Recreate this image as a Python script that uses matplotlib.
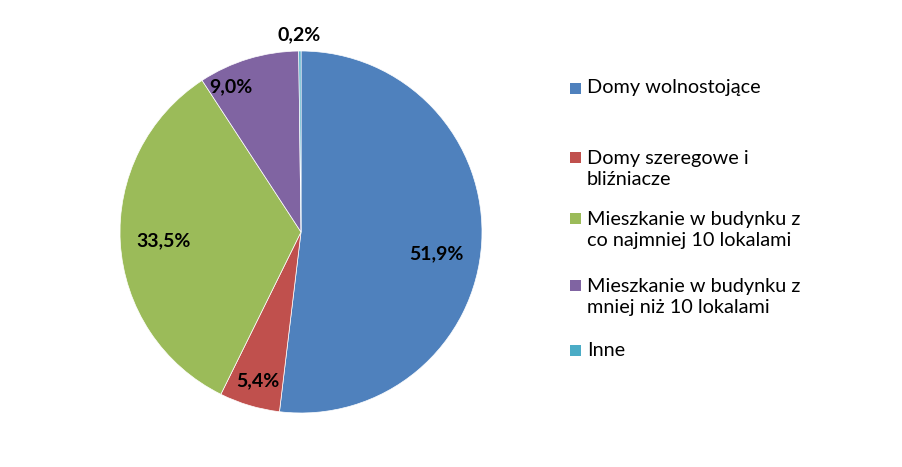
import matplotlib
matplotlib.use("Agg")
import matplotlib.pyplot as plt

plt.rcParams["font.family"] = ["Lato", "DejaVu Sans"]

categories = [
    "Domy wolnostojące",
    "Domy szeregowe i\nbliźniacze",
    "Mieszkanie w budynku z\nco najmniej 10 lokalami",
    "Mieszkanie w budynku z\nmniej niż 10 lokalami",
    "Inne",
]
values = [51.9, 5.4, 33.5, 9.0, 0.2]
value_labels = ["51,9%", "5,4%", "33,5%", "9,0%", "0,2%"]
colors = ["#4F81BD", "#C0504D", "#9BBB59", "#8064A2", "#4BACC6"]

# label positions (axes data units, pie radius = 1)
label_xy = [(0.75, -0.12), (-0.24, -0.82), (-0.76, -0.05), (-0.39, 0.80), (-0.01, 1.09)]
# legend entry vertical centres (pixels from top)
legend_y = [88, 169, 230, 297, 350]

W, H = 902, 467
fig = plt.figure(figsize=(W / 100, H / 100), dpi=100)
fig.patch.set_facecolor("white")

cx, cy, r = 301, 232, 181
ax = fig.add_axes([(cx - r) / W, (H - cy - r) / H, 2 * r / W, 2 * r / H])
ax.pie(values, colors=colors, startangle=90, counterclock=False, radius=1,
       wedgeprops=dict(edgecolor="white", linewidth=0.5))
ax.set_xlim(-1, 1)
ax.set_ylim(-1, 1)
ax.set_aspect("equal")
ax.axis("off")

for (x, y), t in zip(label_xy, value_labels):
    ax.text(x, y, t, ha="center", va="center", fontsize=14, fontweight="bold",
            color="black", clip_on=False)

for yy, c, lab in zip(legend_y, colors, categories):
    n = lab.count("\n") + 1
    top = yy - (n - 1) * 12
    fig.patches.append(plt.Rectangle((570 / W, 1 - (top + 5.5) / H), 11 / W, 11 / H,
                                     transform=fig.transFigure, facecolor=c,
                                     edgecolor="none"))
    fig.text(587 / W, 1 - yy / H, lab, ha="left", va="center", fontsize=14.3,
             linespacing=1.22, color="black")

fig.savefig("out.png", dpi=100, facecolor="white")
